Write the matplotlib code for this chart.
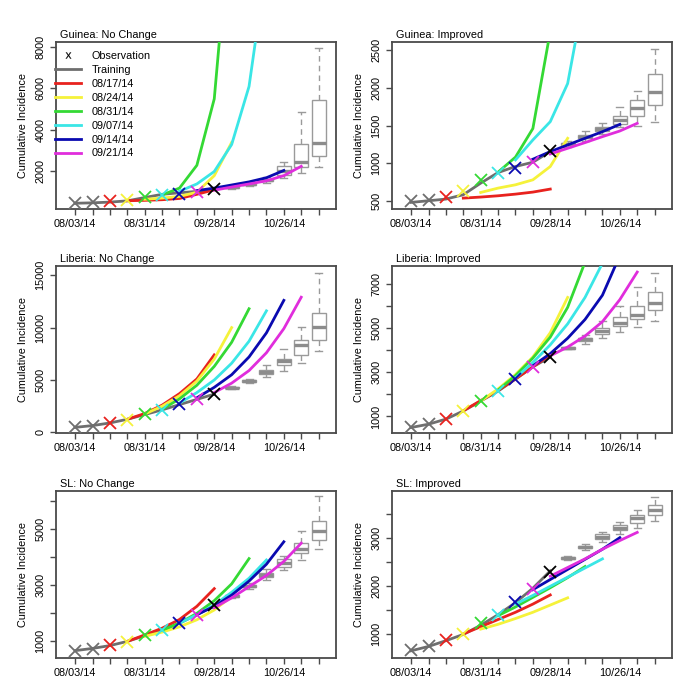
"""Ebola forecasts: cumulative incidence by country, no change vs improved."""

import matplotlib.pyplot as plt
from matplotlib.lines import Line2D

plt.rcParams['font.family'] = ['Liberation Sans', 'DejaVu Sans']
plt.rcParams['font.size'] = 7.8

# week 0 = 08/03/14, weekly steps
week_labels = ['08/03/14', '08/10/14', '08/17/14', '08/24/14', '08/31/14',
               '09/07/14', '09/14/14', '09/21/14', '09/28/14', '10/05/14',
               '10/12/14', '10/19/14', '10/26/14', '11/02/14', '11/09/14']
shown_labels = ['08/03/14', '08/31/14', '09/28/14', '10/26/14']
fc_labels = ['08/17/14', '08/24/14', '08/31/14', '09/07/14', '09/14/14', '09/21/14']
fc_colors = ['#E8221E', '#F5F23A', '#34D934', '#3AE6E6', '#0A0AB0', '#E02DDC']
obs_colors = ['#6E6E6E', '#6E6E6E'] + fc_colors + ['black']

# observations, weeks 0-8
obs_guinea = [490, 510, 555, 630, 775, 865, 935, 1010, 1155]
obs_liberia = [505, 640, 890, 1230, 1720, 2160, 2710, 3230, 3680]
obs_sl = [665, 740, 865, 990, 1230, 1400, 1670, 1935, 2295]

# training fits, weeks 0-8
train_guinea_nc = [470, 490, 525, 585, 745, 900, 975, 1040, 1150]
train_guinea_imp = [478, 500, 522, 580, 734, 875, 955, 1012, 1153]
train_liberia_nc = [480, 650, 900, 1250, 1700, 2150, 2650, 3150, 3650]
train_liberia_imp = [500, 650, 880, 1250, 1700, 2150, 2700, 3250, 3700]
train_sl_nc = [670, 750, 850, 1000, 1200, 1400, 1650, 1950, 2280]
train_sl_imp = [650, 740, 860, 990, 1180, 1400, 1650, 1950, 2310]

# forecasts: forecast i covers weeks i+3 .. i+8
fc_guinea_nc = [[590, 610, 640, 700, 900, 1120],
                [660, 720, 800, 1000, 1800, 3400],
                [870, 1200, 2300, 5500, 15000, 30000],
                [1050, 1400, 2000, 3300, 6100, 12000],
                [1080, 1200, 1350, 1500, 1700, 2050],
                [1100, 1250, 1400, 1550, 1800, 2250]]
fc_guinea_imp = [[535, 549, 566, 588, 615, 655],
                 [610, 668, 712, 778, 955, 1330],
                 [880, 1080, 1460, 2750, 5000, 9000],
                 [1043, 1308, 1551, 2058, 3300, 5000],
                 [1052, 1153, 1242, 1330, 1418, 1515],
                 [1122, 1197, 1273, 1352, 1427, 1529]]
fc_liberia_nc = [[1250, 1800, 2600, 3700, 5100, 7400],
                 [1750, 2500, 3500, 4900, 7000, 10000],
                 [2200, 3200, 4500, 6300, 8600, 11800],
                 [2800, 3800, 5000, 6600, 8700, 11600],
                 [3300, 4300, 5500, 7200, 9500, 12600],
                 [3800, 4700, 5900, 7600, 9900, 12900]]
fc_liberia_imp = [[1260, 1720, 2180, 2700, 3250, 3800],
                  [1700, 2250, 2900, 3700, 4800, 6400],
                  [2200, 2850, 3650, 4600, 5950, 8000],
                  [2750, 3450, 4250, 5200, 6400, 7950],
                  [3300, 3850, 4550, 5400, 6500, 8300],
                  [3750, 4150, 4650, 5300, 6300, 7550]]
fc_sl_nc = [[1000, 1230, 1470, 1780, 2250, 2880],
            [1180, 1330, 1520, 1770, 2120, 2600],
            [1400, 1650, 2000, 2450, 3050, 3950],
            [1650, 1950, 2300, 2750, 3250, 3900],
            [1950, 2250, 2650, 3150, 3750, 4550],
            [2200, 2550, 2950, 3350, 3850, 4500]]
fc_sl_imp = [[1000, 1150, 1300, 1450, 1620, 1810],
             [1100, 1200, 1320, 1450, 1600, 1750],
             [1380, 1560, 1760, 1960, 2170, 2400],
             [1620, 1800, 1990, 2180, 2370, 2560],
             [1920, 2130, 2340, 2550, 2760, 3000],
             [2200, 2380, 2560, 2760, 2940, 3110]]

# boxplot stats (low whisker, q1, median, q3, high whisker), weeks 9-14
box_guinea_nc = [[1180, 1220, 1250, 1280, 1320], [1300, 1360, 1400, 1440, 1500],
                 [1450, 1520, 1580, 1640, 1720], [1690, 1830, 2000, 2260, 2460],
                 [1920, 2200, 2460, 3340, 4860], [2210, 2760, 3370, 5440, 7940]]
box_guinea_imp = [[1220, 1240, 1255, 1270, 1290], [1300, 1330, 1350, 1370, 1430],
                  [1390, 1430, 1455, 1475, 1530], [1480, 1520, 1575, 1625, 1750],
                  [1490, 1630, 1730, 1840, 1960], [1550, 1775, 1950, 2190, 2520]]
box_liberia_nc = [[4150, 4200, 4260, 4320, 4380], [4700, 4800, 4880, 4960, 5100],
                  [5300, 5550, 5720, 5940, 6400], [5900, 6400, 6800, 7050, 8000],
                  [6650, 7400, 8300, 8850, 10050], [7750, 8800, 10100, 11350, 15250]]
box_liberia_imp = [[4050, 4080, 4110, 4140, 4170], [4300, 4420, 4500, 4570, 4680],
                   [4570, 4750, 4870, 5000, 5350], [4830, 5100, 5230, 5500, 6030],
                   [5050, 5430, 5620, 6030, 6850], [5350, 5850, 6130, 6630, 7500]]
box_sl_nc = [[2560, 2590, 2620, 2650, 2690], [2880, 2940, 2980, 3020, 3080],
             [3190, 3290, 3370, 3450, 3570], [3540, 3660, 3780, 3920, 4050],
             [3900, 4140, 4280, 4510, 4940], [4280, 4630, 4940, 5280, 6180]]
box_sl_imp = [[2540, 2560, 2575, 2590, 2610], [2750, 2780, 2805, 2830, 2860],
              [2910, 2980, 3020, 3070, 3110], [3080, 3150, 3205, 3260, 3330],
              [3200, 3310, 3400, 3480, 3570], [3340, 3480, 3570, 3685, 3845]]

panels = [
    ('Guinea: No Change', obs_guinea, train_guinea_nc, fc_guinea_nc, box_guinea_nc,
     (192, 8240), [2000, 4000, 6000, 8000], [2000, 4000, 6000, 8000]),
    ('Guinea: Improved', obs_guinea, train_guinea_imp, fc_guinea_imp, box_guinea_imp,
     (390, 2610), [500, 1000, 1500, 2000, 2500], [500, 1000, 1500, 2000, 2500]),
    ('Liberia: No Change', obs_liberia, train_liberia_nc, fc_liberia_nc, box_liberia_nc,
     (-60, 15880), [0, 5000, 10000, 15000], [0, 5000, 10000, 15000]),
    ('Liberia: Improved', obs_liberia, train_liberia_imp, fc_liberia_imp, box_liberia_imp,
     (250, 7825), list(range(1000, 7001, 1000)), [1000, 3000, 5000, 7000]),
    ('SL: No Change', obs_sl, train_sl_nc, fc_sl_nc, box_sl_nc,
     (408, 6360), list(range(1000, 6001, 1000)), [1000, 3000, 5000]),
    ('SL: Improved', obs_sl, train_sl_imp, fc_sl_imp, box_sl_imp,
     (500, 3970), list(range(1000, 3501, 500)), [1000, 2000, 3000]),
]

frame = '#4a4a4a'
box_col = '#9a9a9a'
train_col = '#6E6E6E'

fig = plt.figure(figsize=(7, 7), dpi=100)
lefts = [0.08, 0.56]
bottoms = [0.7014, 0.3814, 0.06]

for k, (title, obs, train, fcs, boxes, ylim, yt, ylab) in enumerate(panels):
    ax = fig.add_axes([lefts[k % 2], bottoms[k // 2], 0.4, 0.2386])

    # boxplots for weeks 9-14
    bxp_stats = [dict(whislo=b[0], q1=b[1], med=b[2], q3=b[3], whishi=b[4],
                      fliers=[]) for b in boxes]
    ax.bxp(bxp_stats, positions=list(range(9, 15)), widths=0.8,
           patch_artist=True, showfliers=False, manage_ticks=False,
           boxprops=dict(facecolor='white', edgecolor=box_col, lw=1.0),
           medianprops=dict(color='#8c8c8c', lw=2.4),
           whiskerprops=dict(color=box_col, lw=1.0, ls=(0, (4, 3))),
           capprops=dict(color=box_col, lw=1.0), capwidths=0.4)

    ax.plot(range(9), train, color=train_col, lw=2, zorder=3)
    for i, fc in enumerate(fcs):
        ax.plot(range(i + 3, i + 9), fc, color=fc_colors[i], lw=2, zorder=4)
    for w, v in enumerate(obs):
        ax.plot(w, v, marker='x', ms=8, mew=1.3, color=obs_colors[w],
                ls='none', zorder=5)

    ax.set_xlim(-1.1, 15.0)
    ax.set_ylim(*ylim)
    ax.set_xticks(range(15))
    ax.set_xticklabels([d if d in shown_labels else '' for d in week_labels])
    ax.set_yticks(yt)
    ax.set_yticklabels([str(v) if v in ylab else '' for v in yt])
    ax.tick_params(direction='out', length=4.5, width=1.0, color=frame, pad=3)
    ax.tick_params(axis='y', labelrotation=90)
    for lab in ax.get_yticklabels():
        lab.set_va('center')
    for s in ax.spines.values():
        s.set_color(frame)
        s.set_linewidth(1.3)
    ax.set_ylabel('Cumulative Incidence')
    ax.yaxis.set_label_coords(-0.1, 0.5)
    ax.text(0.014, 1.012, title, transform=ax.transAxes, ha='left', va='bottom')

    if k == 0:
        handles = [Line2D([], [], marker=r'$\mathregular{x}$', color='black',
                          ls='none', ms=4.5, mew=0.1)]
        handles += [Line2D([], [], color=train_col, lw=2)]
        handles += [Line2D([], [], color=c, lw=2) for c in fc_colors]
        ax.legend(handles, ['Observation', 'Training'] + fc_labels,
                  loc='upper left', frameon=False, handlelength=2.4,
                  labelspacing=0.36, borderaxespad=0.0, borderpad=0.0,
                  handletextpad=0.9, bbox_to_anchor=(-0.002, 0.945))

fig.savefig('out.png', dpi=100)
